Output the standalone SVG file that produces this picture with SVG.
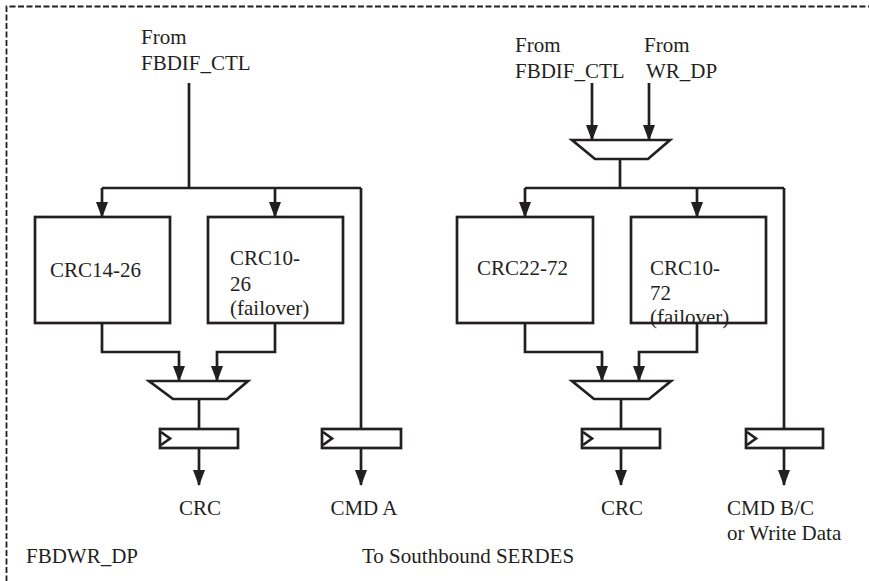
<svg xmlns="http://www.w3.org/2000/svg" width="869" height="581" viewBox="0 0 869 581">
<style>
.t{font-family:"Liberation Serif","Times New Roman",serif;font-size:21px;fill:#231f20}
.b{fill:#fff;stroke:#231f20;stroke-width:2.7}
.w{fill:none;stroke:#231f20;stroke-width:2.7}
.a{fill:none;stroke:#231f20;stroke-width:2.7;marker-end:url(#ah)}
</style>
<defs>
<marker id="ah" markerUnits="userSpaceOnUse" viewBox="0 0 16 12" refX="15" refY="6" markerWidth="16" markerHeight="12" orient="auto">
<path d="M0,0 L16,6 L0,12 Z" fill="#231f20"/>
</marker>
</defs>
<rect width="869" height="581" fill="#fff"/>
<path d="M6.5,590 L6.5,6.5 L880,6.5" fill="none" stroke="#231f20" stroke-width="1.8" stroke-dasharray="6,2.5"/>
<g id="connectors">
<path class="w" d="M189,83 L189,188"/>
<path class="w" d="M102,188 L361,188"/>
<path class="a" d="M102,188 L102,217"/>
<path class="a" d="M275,188 L275,217"/>
<path class="w" d="M361,188 L361,429"/>
<path class="a" d="M102,323 L102,352 L179,352 L179,381"/>
<path class="a" d="M275,323 L275,352 L217,352 L217,381"/>
<path class="w" d="M199,399 L199,429"/>
<path class="a" d="M199,448 L199,485"/>
<path class="a" d="M361,448 L361,485"/>
<path class="a" d="M592,83 L592,140"/>
<path class="a" d="M649,83 L649,140"/>
<path class="w" d="M620,159 L620,188"/>
<path class="w" d="M525,188 L784,188"/>
<path class="a" d="M525,188 L525,217"/>
<path class="a" d="M697,188 L697,217"/>
<path class="w" d="M784,188 L784,429"/>
<path class="a" d="M525,323 L525,352 L602,352 L602,381"/>
<path class="a" d="M697,323 L697,352 L639,352 L639,381"/>
<path class="w" d="M621,399 L621,429"/>
<path class="a" d="M621,448 L621,485"/>
<path class="a" d="M784,448 L784,485"/>
</g>
<g id="crc14-26"><rect class="b" x="35" y="217" width="135" height="106"/><text class="t" x="50" y="277">CRC14-26</text></g>
<g id="crc10-26"><rect class="b" x="208" y="217" width="135" height="106"/><text class="t" x="230" y="265">CRC10-</text><text class="t" x="230" y="291">26</text><text class="t" x="230" y="315">(failover)</text></g>
<g id="mux-left"><path class="b" d="M149,381 L248,381 L227,399 L173,399 Z"/></g>
<g id="ff-crc-left"><rect class="b" x="160" y="429" width="78" height="19"/><path class="w" d="M161,432 L170,438.5 L161,445"/></g>
<g id="ff-cmda"><rect class="b" x="322" y="429" width="79" height="19"/><path class="w" d="M323,432 L332,438.5 L323,445"/></g>
<g id="crc22-72"><rect class="b" x="457" y="217" width="136" height="106"/><text class="t" x="477" y="275">CRC22-72</text></g>
<g id="crc10-72"><rect class="b" x="631" y="217" width="135" height="106"/><text class="t" x="650" y="275">CRC10-</text><text class="t" x="650" y="300">72</text><text class="t" x="650" y="324">(failover)</text></g>
<g id="mux-top"><path class="b" d="M572,140 L670,140 L648,159 L595,159 Z"/></g>
<g id="mux-right"><path class="b" d="M572,381 L671,381 L649,399 L594,399 Z"/></g>
<g id="ff-crc-right"><rect class="b" x="582" y="429" width="78" height="19"/><path class="w" d="M583,432 L592,438.5 L583,445"/></g>
<g id="ff-cmdbc"><rect class="b" x="746" y="429" width="77" height="19"/><path class="w" d="M747,432 L756,438.5 L747,445"/></g>
<g id="labels">
<text class="t" x="141" y="44">From</text>
<text class="t" x="141" y="70">FBDIF_CTL</text>
<text class="t" x="515" y="52">From</text>
<text class="t" x="515" y="78">FBDIF_CTL</text>
<text class="t" x="644" y="52">From</text>
<text class="t" x="646" y="78">WR_DP</text>
<text class="t" x="200" y="515" text-anchor="middle">CRC</text>
<text class="t" x="364" y="515" text-anchor="middle">CMD A</text>
<text class="t" x="622" y="515" text-anchor="middle">CRC</text>
<text class="t" x="727" y="515">CMD B/C</text>
<text class="t" x="727" y="540">or Write Data</text>
<text class="t" x="26" y="563">FBDWR_DP</text>
<text class="t" x="362" y="563">To Southbound SERDES</text>
</g>
</svg>
